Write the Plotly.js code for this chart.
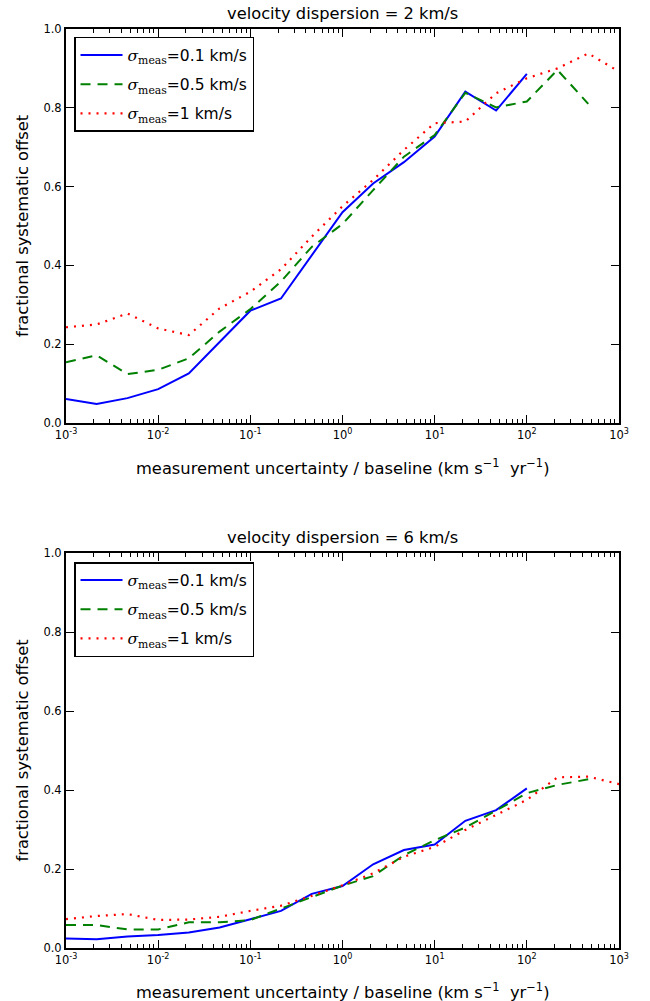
<!DOCTYPE html>
<html>
<head>
<meta charset="utf-8">
<script src="https://cdn.plot.ly/plotly-3.0.1.min.js"></script>
<style>html,body{margin:0;padding:0;background:#fff;}#chart{width:650px;height:1001px;}</style>
</head>
<body>
<div id="chart"></div>
<script>
// x values: 3 per decade from 1e-3 to 1e3
const xVals = [0.001, 0.00215, 0.00464, 0.01, 0.0215, 0.0464, 0.1, 0.215, 0.464, 1, 2.15, 4.64, 10, 21.5, 46.4, 100, 215, 464, 1000];

// velocity dispersion = 2 km/s
const top01 = [0.061, 0.048, 0.063, 0.086, 0.126, 0.205, 0.285, 0.316, 0.424, 0.535, 0.608, 0.662, 0.727, 0.841, 0.793, 0.886];
const top05 = [0.154, 0.172, 0.124, 0.135, 0.164, 0.232, 0.289, 0.359, 0.447, 0.505, 0.591, 0.676, 0.731, 0.838, 0.801, 0.816, 0.896, 0.810];
const top1  = [0.243, 0.250, 0.278, 0.240, 0.223, 0.291, 0.333, 0.390, 0.473, 0.550, 0.617, 0.693, 0.761, 0.765, 0.837, 0.875, 0.900, 0.938, 0.892];

// velocity dispersion = 6 km/s
const bot01 = [0.024, 0.022, 0.029, 0.033, 0.039, 0.052, 0.073, 0.094, 0.137, 0.157, 0.212, 0.248, 0.262, 0.322, 0.349, 0.404];
const bot05 = [0.058, 0.058, 0.047, 0.047, 0.065, 0.065, 0.071, 0.100, 0.130, 0.158, 0.182, 0.235, 0.273, 0.305, 0.348, 0.392, 0.413, 0.427];
const bot1  = [0.073, 0.081, 0.086, 0.071, 0.072, 0.079, 0.094, 0.107, 0.132, 0.159, 0.189, 0.231, 0.256, 0.299, 0.337, 0.375, 0.432, 0.434, 0.415];

// tick labels
const xTickVals = [0.001, 0.01, 0.1, 1, 10, 100, 1000];
const xTickText = ['10<sup>-3</sup>', '10<sup>-2</sup>', '10<sup>-1</sup>', '10<sup>0</sup>', '10<sup>1</sup>', '10<sup>2</sup>', '10<sup>3</sup>'];
const yTickVals = [0, 0.2, 0.4, 0.6, 0.8, 1.0];
const yTickText = ['0.0', '0.2', '0.4', '0.6', '0.8', '1.0'];

const titles = ['velocity dispersion = 2 km/s', 'velocity dispersion = 6 km/s'];
const seriesNames = [
  '<span style="font-family:\'DejaVu Serif\'"><i>σ</i><sub>meas</sub>=</span>0.1 km/s',
  '<span style="font-family:\'DejaVu Serif\'"><i>σ</i><sub>meas</sub>=</span>0.5 km/s',
  '<span style="font-family:\'DejaVu Serif\'"><i>σ</i><sub>meas</sub>=</span>1 km/s'
];
const xTitle = 'measurement uncertainty / baseline (km s<sup>−1</sup>  yr<sup>−1</sup>)';
const yTitle = 'fractional systematic offset';

const styles = [
  {color: '#0000ff', width: 2, dash: 'solid'},
  {color: '#008000', width: 2, dash: '10px,7px'},
  {color: '#ff0000', width: 2.2, dash: '2px,6px'}
];

function mk(y, i, xa, ya, legend) {
  return {
    x: xVals.slice(0, y.length), y: y, type: 'scatter', mode: 'lines',
    name: seriesNames[i], line: styles[i], xaxis: xa, yaxis: ya, legend: legend,
    legendgroup: legend + '_' + i
  };
}

const traces = [
  mk(top01, 0, 'x', 'y', 'legend'),
  mk(top05, 1, 'x', 'y', 'legend'),
  mk(top1, 2, 'x', 'y', 'legend'),
  mk(bot01, 0, 'x2', 'y2', 'legend2'),
  mk(bot05, 1, 'x2', 'y2', 'legend2'),
  mk(bot1, 2, 'x2', 'y2', 'legend2')
];

const font = {family: 'DejaVu Sans, sans-serif', color: '#000'};

function xax(anchor) {
  return {
    type: 'log', range: [-3, 3], tickmode: 'array', tickvals: xTickVals, ticktext: xTickText,
    showline: true, linecolor: '#000', linewidth: 2, mirror: 'allticks',
    ticks: 'inside', ticklen: 8, tickwidth: 1, tickcolor: '#000',
    showgrid: false, zeroline: false, anchor: anchor,
    tickfont: {family: font.family, size: 11.5, color: '#000'},
    minor: {ticks: 'inside', ticklen: 4, tickwidth: 1, tickcolor: '#000', dtick: 'D1', showgrid: false}
  };
}
function yax(domain, anchor) {
  return {
    range: [0, 1], tickmode: 'array', tickvals: yTickVals, ticktext: yTickText, domain: domain, anchor: anchor,
    showline: true, linecolor: '#000', linewidth: 2, mirror: 'allticks',
    ticks: 'inside', ticklen: 8, tickwidth: 1, tickcolor: '#000',
    showgrid: false, zeroline: false,
    tickfont: {family: font.family, size: 11.5, color: '#000'}
  };
}

const legendBase = {
  xref: 'paper', yref: 'paper', x: 0.0145, xanchor: 'left', yanchor: 'top',
  bgcolor: '#fff', bordercolor: '#000', borderwidth: 1.5, tracegroupgap: 6,
  font: {family: font.family, size: 15.5, color: '#000'}, itemwidth: 42
};

const ttlFont = {family: font.family, size: 16.3, color: '#000'};

const layout = {
  width: 650, height: 1001,
  margin: {l: 66, r: 30.5, t: 29, b: 53},
  paper_bgcolor: '#fff', plot_bgcolor: '#fff',
  font: font,
  xaxis: xax('y'),
  yaxis: yax([0.5713, 1], 'x'),
  xaxis2: xax('y2'),
  yaxis2: yax([0, 0.4298], 'x2'),
  legend: Object.assign({}, legendBase, {y: 0.9913}),
  legend2: Object.assign({}, legendBase, {y: 0.420}),
  annotations: [
    {text: titles[0], xref: 'paper', yref: 'paper', x: 0.5, y: 1.0174, showarrow: false, xanchor: 'center', yanchor: 'middle', font: ttlFont},
    {text: titles[1], xref: 'paper', yref: 'paper', x: 0.5, y: 0.4472, showarrow: false, xanchor: 'center', yanchor: 'middle', font: ttlFont},
    {text: xTitle, xref: 'paper', yref: 'paper', x: 0.5, y: 0.5234, showarrow: false, xanchor: 'center', yanchor: 'middle', font: ttlFont},
    {text: xTitle, xref: 'paper', yref: 'paper', x: 0.5, y: -0.0468, showarrow: false, xanchor: 'center', yanchor: 'middle', font: ttlFont},
    {text: yTitle, xref: 'paper', yref: 'paper', x: -0.0795, y: 0.7856, textangle: -90, showarrow: false, xanchor: 'center', yanchor: 'middle', font: ttlFont},
    {text: yTitle, xref: 'paper', yref: 'paper', x: -0.0795, y: 0.2149, textangle: -90, showarrow: false, xanchor: 'center', yanchor: 'middle', font: ttlFont}
  ],
  showlegend: true
};

Plotly.newPlot('chart', traces, layout, {displayModeBar: false, staticPlot: true});
</script>
</body>
</html>
